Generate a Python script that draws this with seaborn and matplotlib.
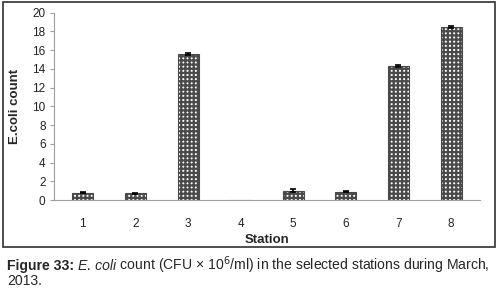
import matplotlib
matplotlib.use('Agg')
import matplotlib.pyplot as plt
import numpy as np
import pandas as pd
import seaborn as sns
from matplotlib.patches import Rectangle

stations = ['1', '2', '3', '4', '5', '6', '7', '8']
ecoli_count = [0.8, 0.75, 15.6, 0.0, 1.0, 0.9, 14.3, 18.5]
ecoli_err = [0.05, 0.05, 0.1, 0.0, 0.15, 0.05, 0.15, 0.12]
y_ticks = [0, 2, 4, 6, 8, 10, 12, 14, 16, 18, 20]

sns.set_style('white')
plt.rcParams['font.family'] = ['Liberation Sans', 'DejaVu Sans']
plt.rcParams['hatch.linewidth'] = 1.6

df = pd.DataFrame({'Station': stations, 'count': ecoli_count})

fig = plt.figure(figsize=(4.99, 2.93), dpi=100)
ax = fig.add_axes([0.108, 0.317, 0.854, 0.64])

sns.barplot(data=df, x='Station', y='count', ax=ax, width=0.4,
            color='white', edgecolor='#4a4a4a', linewidth=0.8,
            hatch='++++', errorbar=None)
has_err = np.array(ecoli_err) > 0
ax.errorbar(np.arange(len(stations))[has_err], np.array(ecoli_count)[has_err],
            yerr=np.array(ecoli_err)[has_err],
            fmt='none', ecolor='black', elinewidth=1.2, capsize=2.5, capthick=1.2)

ax.set_ylim(0, 20)
ax.set_yticks(y_ticks)
ax.set_xlim(-0.55, 7.55)
for side in ['top', 'right']:
    ax.spines[side].set_visible(False)
for side in ['left', 'bottom']:
    ax.spines[side].set_color('#a0a0a0')
    ax.spines[side].set_linewidth(0.8)
ax.tick_params(axis='y', length=3, color='#a0a0a0', labelsize=8.5, left=True, pad=3,
               labelcolor='#222222')
ax.tick_params(axis='x', length=0, labelsize=8.5, pad=13, labelcolor='#222222')
ax.set_xlabel('Station', fontsize=9.5, fontweight='bold', labelpad=3)
ax.set_ylabel('E.coli count', fontsize=9.5, fontweight='bold', labelpad=8)

# box around chart area
fig.patches.append(Rectangle((0.006, 1 - 247 / 293), 0.986, 245 / 293,
                             transform=fig.transFigure, fill=False,
                             edgecolor='#303030', linewidth=1.2))

# caption, built piece by piece
caption_parts = [('Figure 33:', 'bold', 'normal'), (' ', 'normal', 'normal'),
                 ('E. coli', 'normal', 'italic'),
                 (' count (CFU × 10$^6$/ml) in the selected stations during March,', 'normal', 'normal')]
fs = 10.1
renderer = fig.canvas.get_renderer()
x = 7
y1 = 293 - 270
for s, w, st in caption_parts:
    t = fig.text(x / 499, y1 / 293, s, fontsize=fs, fontweight=w, fontstyle=st,
                 va='baseline', ha='left')
    bb = t.get_window_extent(renderer=renderer)
    x = bb.x1
fig.text(7 / 499, (293 - 285) / 293, '2013.', fontsize=fs, va='baseline', ha='left')

fig.savefig('out.png', dpi=100)
